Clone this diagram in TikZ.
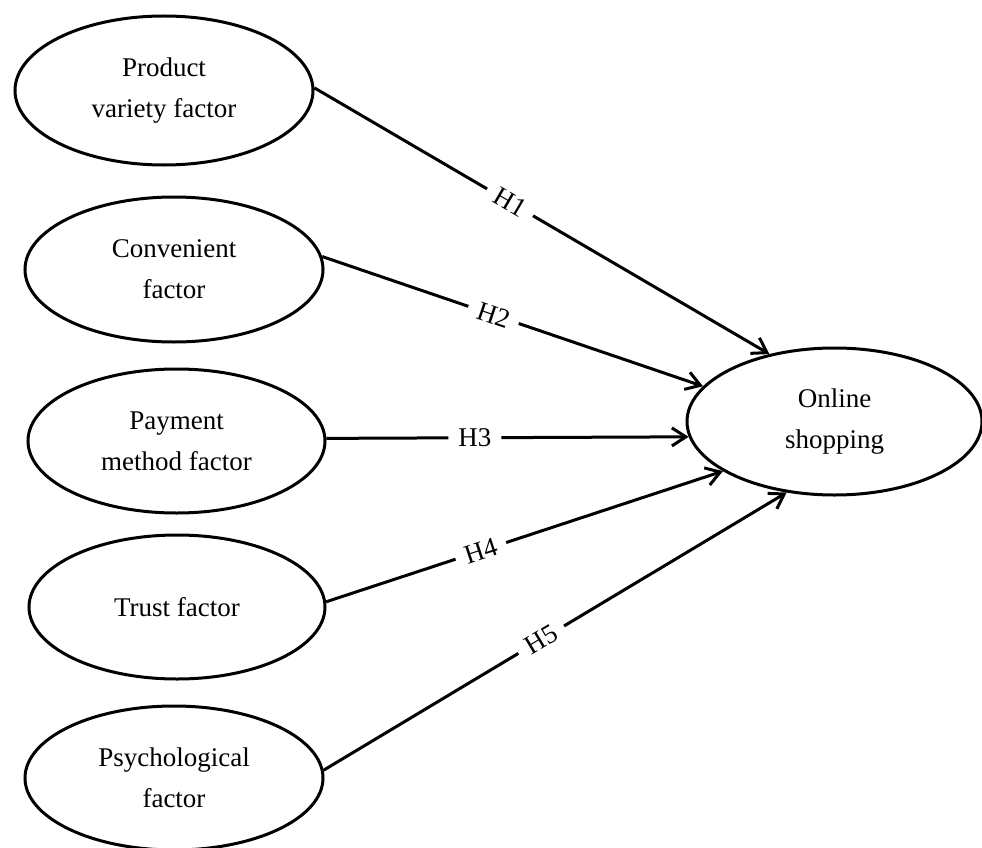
\documentclass[tikz,border=0pt]{standalone}
\usepackage{fontspec}
\setmainfont{Liberation Serif}
\usetikzlibrary{shapes.geometric,arrows.meta}
\begin{document}
\begin{tikzpicture}[x=1pt,y=-1pt,
  factor/.style={draw, ellipse, line width=3pt, inner sep=0pt, align=center,
    font=\fontsize{27}{41}\selectfont},
  arr/.style={line width=3pt, -{Straight Barb[length=14pt,width=18pt,line width=3pt]}},
  lbl/.style={sloped, fill=white, inner xsep=10pt, inner ysep=1pt,
    font=\fontsize{27}{30}\selectfont}]
\useasboundingbox (0,0) rectangle (982,848);
\clip (0,0) rectangle (982,848);
\node[factor, minimum width=298pt, minimum height=149pt] (e1) at (164,90.5) {Product\\variety factor};
\node[factor, minimum width=298pt, minimum height=145pt] (e2) at (174,269.5) {Convenient\\factor};
\node[factor, minimum width=297pt, minimum height=144pt] (e3) at (176.5,441) {Payment\\method factor};
\node[factor, minimum width=296pt, minimum height=144pt] (e4) at (177,607) {Trust factor};
\node[factor, minimum width=298pt, minimum height=144pt] (e5) at (174,778) {Psychological\\factor};
\node[factor, minimum width=295pt, minimum height=147pt] (on) at (834.5,421.5) {Online\\shopping};
\draw[arr] (e1.1) -- (on.134) node[lbl, pos=0.43] {H1};
\draw[arr] (e2.5) -- (on.165) node[lbl, pos=0.45] {H2};
\draw[arr] (e3.1.5) -- (on.186) node[lbl, pos=0.41] {H3};
\draw[arr] (e4.2.7) -- (on.204) node[lbl, pos=0.39] {H4};
\draw[arr] (e5.3) -- (on.236) node[lbl, pos=0.47] {H5};
\end{tikzpicture}
\end{document}
